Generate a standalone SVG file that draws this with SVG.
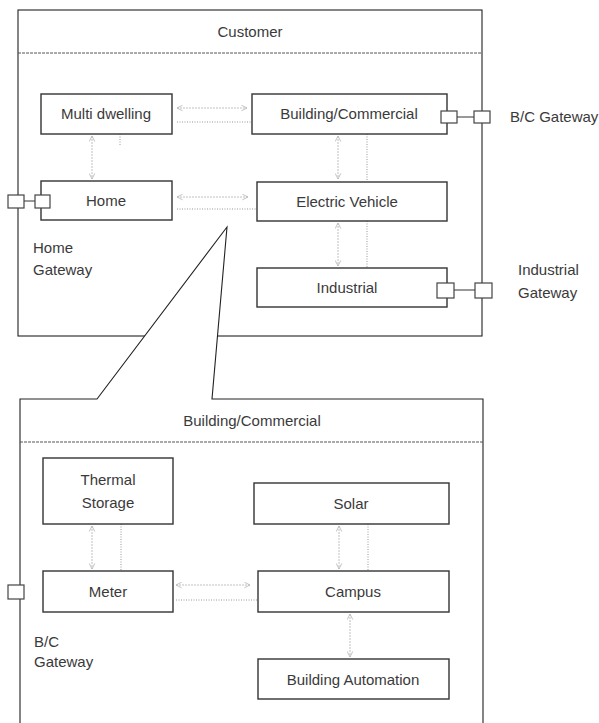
<svg xmlns="http://www.w3.org/2000/svg" width="599" height="723" viewBox="0 0 599 723">
<defs>
<marker id="ah" viewBox="0 0 10 10" refX="9" refY="5" markerWidth="7" markerHeight="7" orient="auto-start-reverse" markerUnits="userSpaceOnUse">
<path d="M1,1 L9,5 L1,9" fill="none" stroke="#b8b8b8" stroke-width="1.2"/>
</marker>
<style>
text{font-family:"Liberation Sans",Arial,sans-serif;font-size:15px;fill:#3a3a3a;}
.c{text-anchor:middle;}
.box{fill:#fff;stroke:#333;stroke-width:1.4;}
.frame{fill:#fff;stroke:#222;stroke-width:1.1;}
.sep{stroke:#555;stroke-width:1;stroke-dasharray:3,1;fill:none;}
.gw{fill:#fff;stroke:#444;stroke-width:1.2;}
.gl{stroke:#333;stroke-width:1;}
.arr{stroke:#c0c0c0;stroke-width:1;stroke-dasharray:2,1;fill:none;marker-start:url(#ah);marker-end:url(#ah);}
.dl{stroke:#999;stroke-width:1;stroke-dasharray:1,1.5;fill:none;}
</style>
</defs>
<rect width="599" height="723" fill="#fff"/>

<g id="customer">
<rect class="frame" x="18" y="10" width="464" height="326"/>
<line class="sep" x1="18" y1="53" x2="482" y2="53"/>
<text class="c" x="250" y="37">Customer</text>
</g>

<g id="connectors-top">
<line class="arr" x1="177" y1="108" x2="247" y2="108"/>
<line class="dl" x1="177" y1="122" x2="252" y2="122"/>
<line class="arr" x1="92" y1="136" x2="92" y2="179"/>
<line class="dl" x1="120" y1="134" x2="120" y2="145"/>
<line class="arr" x1="177" y1="197" x2="248" y2="197"/>
<line class="dl" x1="177" y1="209" x2="257" y2="209"/>
<line class="arr" x1="338" y1="136" x2="338" y2="179"/>
<line class="dl" x1="367" y1="134" x2="367" y2="181"/>
<line class="arr" x1="338" y1="223" x2="338" y2="266"/>
<line class="dl" x1="367" y1="221" x2="367" y2="268"/>
<line class="gl" x1="24" y1="201" x2="35" y2="201"/>
<line class="gl" x1="457" y1="117" x2="474" y2="117"/>
<line class="gl" x1="454" y1="290" x2="475" y2="290"/>
</g>

<g id="multi-dwelling">
<rect class="box" x="41" y="94" width="131" height="40"/>
<text class="c" x="106" y="119">Multi dwelling</text>
</g>
<g id="building-commercial">
<rect class="box" x="252" y="94" width="195" height="40"/>
<text class="c" x="349" y="119">Building/Commercial</text>
</g>
<g id="home">
<rect class="box" x="41" y="181" width="131" height="39"/>
<text class="c" x="106" y="206">Home</text>
</g>
<g id="electric-vehicle">
<rect class="box" x="257" y="182" width="190" height="39"/>
<text class="c" x="347" y="207">Electric Vehicle</text>
</g>
<g id="industrial">
<rect class="box" x="257" y="268" width="190" height="39"/>
<text class="c" x="347" y="293">Industrial</text>
</g>

<g id="home-gateway">
<rect class="gw" x="8" y="195" width="16" height="13"/>
<rect class="gw" x="35" y="195" width="15" height="13"/>
<text x="33" y="253">Home</text>
<text x="33" y="275">Gateway</text>
</g>
<g id="bc-gateway-top">
<rect class="gw" x="441" y="111" width="16" height="12"/>
<rect class="gw" x="474" y="111" width="16" height="12"/>
<text x="510" y="122">B/C Gateway</text>
</g>
<g id="industrial-gateway">
<rect class="gw" x="437" y="283" width="17" height="15"/>
<rect class="gw" x="475" y="283" width="17" height="15"/>
<text x="518" y="275">Industrial</text>
<text x="518" y="298">Gateway</text>
</g>

<g id="building-commercial-detail">
<path class="frame" d="M20,730 L20,399 L97,399 L227,227 L212,399 L483,399 L483,730"/>
<line class="sep" x1="20" y1="442" x2="483" y2="442"/>
<text class="c" x="252" y="426">Building/Commercial</text>
</g>

<g id="connectors-bottom">
<line class="arr" x1="92" y1="526" x2="92" y2="569"/>
<line class="dl" x1="121" y1="524" x2="121" y2="571"/>
<line class="arr" x1="339" y1="526" x2="339" y2="569"/>
<line class="dl" x1="368" y1="524" x2="368" y2="571"/>
<line class="arr" x1="176" y1="585" x2="250" y2="585"/>
<line class="dl" x1="176" y1="600" x2="258" y2="600"/>
<line class="arr" x1="350" y1="614" x2="350" y2="657"/>
</g>

<g id="thermal-storage">
<rect class="box" x="43" y="458" width="130" height="66"/>
<text class="c" x="108" y="485">Thermal</text>
<text class="c" x="108" y="508">Storage</text>
</g>
<g id="solar">
<rect class="box" x="254" y="483" width="195" height="41"/>
<text class="c" x="351" y="509">Solar</text>
</g>
<g id="meter">
<rect class="box" x="43" y="571" width="130" height="41"/>
<text class="c" x="108" y="597">Meter</text>
</g>
<g id="campus">
<rect class="box" x="258" y="571" width="191" height="41"/>
<text class="c" x="353" y="597">Campus</text>
</g>
<g id="building-automation">
<rect class="box" x="258" y="659" width="191" height="40"/>
<text class="c" x="353" y="685">Building Automation</text>
</g>
<g id="bc-gateway-bottom">
<rect class="gw" x="8" y="585" width="16" height="14"/>
<text x="34" y="647">B/C</text>
<text x="34" y="667">Gateway</text>
</g>
</svg>
